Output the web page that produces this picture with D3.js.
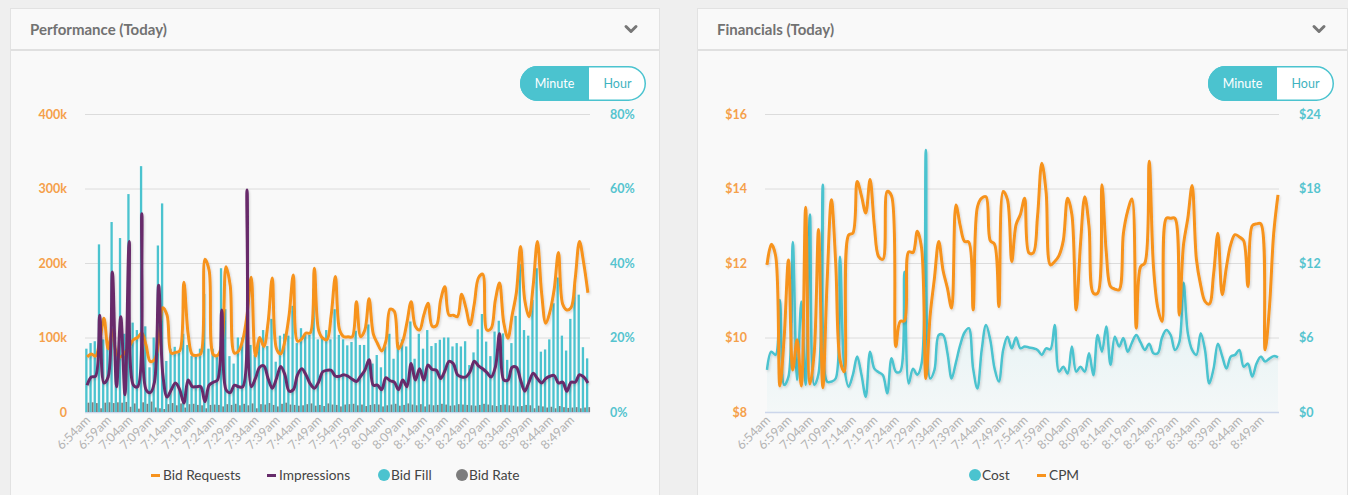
<!DOCTYPE html>
<html><head><meta charset="utf-8">
<script src="https://cdn.jsdelivr.net/npm/d3@7"></script>
<style>
html,body{margin:0;padding:0;background:#efefef;}
svg{display:block;font-family:Lato,"Open Sans",sans-serif;}
</style></head><body>
<svg id="c" width="1348" height="495"></svg>
<script>
// ---------- DATA ----------
const startMinute = 6 * 60 + 54; // 6:54am
const pointCount = 120;
const minuteLabels = d3.range(pointCount).map(k => {
  const m = startMinute + k, h = Math.floor(m / 60), mm = m % 60;
  return h + ":" + String(mm).padStart(2, "0") + "am";
});
const tickEvery = 5;

const perfLeftTicks = [0, 100, 200, 300, 400];      // thousands
const perfRightTicks = [0, 20, 40, 60, 80];         // percent
const finLeftTicks = [8, 10, 12, 14, 16];           // CPM $
const finRightTicks = [0, 6, 12, 18, 24];           // Cost $

const bidRequests = [74,78,75,95,126,85,110,78,74,80,
  88,97,100,106,90,68,70,95,140,130,
  79,80,82,174,105,77,76,78,205,190,
  77,76,90,195,170,79,82,97,130,181,
  75,100,88,120,180,85,78,95,130,184,
  95,98,106,106,193,110,99,97,130,182,
  110,101,101,101,148,101,110,152,105,92,
  82,95,138,135,85,95,120,148,115,110,
  130,146,115,116,150,168,130,130,128,158,
  140,117,145,180,185,110,112,150,173,120,
  99,130,160,222,150,128,170,229,160,119,
  135,165,214,145,137,140,180,229,200,160];

const impressions = [36,47,48,130,39,47,188,34,128,23,
  229,36,34,266,30,26,40,170,50,20,
  30,39,30,12,43,34,34,34,14,36,
  40,43,137,30,26,36,34,34,298,34,
  45,60,62,45,32,45,61,50,28,30,
  50,58,50,38,32,40,54,56,56,48,
  48,50,48,44,41,48,56,70,36,36,
  30,46,42,40,30,43,34,65,43,58,
  43,63,57,56,45,55,68,65,50,47,
  47,54,68,62,58,53,47,60,105,43,
  43,60,60,43,28,40,52,45,39,45,
  48,49,39,40,28,40,40,50,47,39];

const bidFill = [17,18.5,19,45,19.5,18,51,17,46.7,21,
  58.5,24,22,66,23,12,20,44.7,56,13.7,
  17,17.5,16,21,18,15,15,17,31.7,17,
  17,15,38.6,27.6,15,13,20,20,23.4,18,
  15.3,20,22,17.7,25,13.5,20.5,21,20.5,28.5,
  18.5,22.5,21,20.7,33.2,19.5,20,22,19.5,27.6,
  20.7,19.5,17.9,18.8,21.8,18,18,23.5,13,15.3,
  12,17.6,21,14.3,18.8,19.5,17.6,24.3,14.3,21,
  17,22,17.7,18.5,19.4,20,20,17.6,18.5,17.6,
  19,12.6,16,22.2,26.3,18.9,15,21.6,24.5,21.1,
  14,18.5,25.8,39.7,22,20.5,30.1,38.6,16.2,16.8,
  19.5,29.2,36.1,20.5,16.5,25,34.1,31.5,17.4,14.4];

const bidRate = [2.5,2.6,2.4,1.0,2.5,2.6,2.4,2.6,2.5,2.7,1.4,2.3,0.9,2.6,2.2,2.8,1.2,1.0,0.8,2.1,2.4,1.8,2.3,1.2,2.1,2.2,1.9,1.8,1.0,1.9,
  2.0,1.9,1.5,2.1,1.9,2.2,1.8,2.2,1.8,2.3,1.0,2.1,2.0,2.4,1.9,1.5,2.2,2.5,2.0,1.9,
  1.7,1.8,2.1,2.3,1.7,1.9,1.6,2.3,2.0,1.9,1.5,2.0,2.1,2.2,1.8,2.0,1.6,1.9,2.1,2.0,
  1.5,1.8,2.0,2.2,1.7,1.9,2.3,2.0,1.8,2.1,1.5,2.0,1.8,1.9,2.2,2.0,1.7,1.8,2.1,2.0,
  1.9,1.8,1.7,1.9,2.2,2.0,1.8,1.6,1.9,2.0,1.8,1.7,1.5,1.6,1.9,1.8,1.0,1.7,1.5,1.2,
  1.4,1.0,1.6,1.3,1.1,1.2,1.3,1.0,1.2,1.3];

const cost = [3.39,4.86,4.6,9.03,2.18,2.85,13.7,2.58,8.9,2.18,
  15.9,2.18,3.1,18.3,2.45,2.45,2.7,12.5,3.65,2.04,
  3.0,4.46,3.0,1.23,4.86,3.49,3.2,2.96,1.5,4.33,
  3.25,3.25,11.3,2.3,3.49,3.0,3.9,21.1,2.7,3.4,
  6.2,6.2,4.8,2.7,4.0,5.4,6.4,6.75,3.5,1.9,
  5.0,7.0,5.8,3.5,2.45,5.0,6.07,5.13,6.0,5.13,
  5.27,5.2,5.13,5.0,4.6,5.13,5.05,7.0,3.25,3.65,
  3.1,5.27,3.25,3.65,3.25,4.73,2.96,6.2,4.86,6.88,
  3.8,6.07,5.27,5.95,4.86,5.6,6.2,5.6,5.0,5.5,
  4.73,4.73,6.0,6.6,6.2,5.0,5.6,10.4,6.35,5.0,
  4.6,6.35,5.0,2.3,3.5,5.5,4.5,3.5,4.46,4.6,
  5.0,3.65,3.9,2.85,3.9,4.46,4.06,4.3,4.5,4.4];

const cpm = [11.95,12.5,12.2,8.7,10.0,12.08,9.13,9.94,8.7,13.5,
  8.75,9.6,12.9,8.65,11.5,13.7,12.0,9.4,9.08,12.75,
  12.8,14.19,13.8,13.34,14.24,13.0,12.17,12.1,13.92,13.8,
  9.76,10.43,10.45,12.3,12.28,12.85,12.4,8.9,10.6,11.6,
  12.58,11.8,11.33,10.79,13.56,13.0,12.58,12.56,10.74,13.5,
  13.74,13.78,12.6,12.5,10.83,13.92,13.7,12.04,13.03,13.3,
  13.74,12.27,12.27,13.25,14.68,13.9,11.95,12.04,12.2,12.6,
  13.74,13.3,10.74,12.5,13.78,12.97,11.19,11.19,14.1,12.3,
  11.37,11.3,11.28,12.8,13.4,13.72,10.25,11.9,12.0,14.73,
  11.9,10.8,10.43,13.2,13.2,13.2,10.6,12.5,13.2,14.08,
  12.1,11.4,10.97,10.9,11.7,12.8,11.15,11.9,12.5,12.76,
  12.7,12.6,11.37,13.0,13.05,13.05,9.67,10.8,12.8,13.83];

// ---------- STYLE ----------
const C = {orange:"#f7931e", purple:"#672c6b", teal:"#4bc3cf", grey:"#7d7d7d",
  axisOrange:"#f5a04a", axisTeal:"#55c4cf", grid:"#dcdcdc", base:"#ccd6eb", xlab:"#b3b3b3"};
const N = pointCount;
const svg = d3.select("#c");
const defs = svg.append("defs");
const f = defs.append("filter").attr("id","sh").attr("x","-5%").attr("y","-10%").attr("width","110%").attr("height","130%");
f.append("feDropShadow").attr("dx",1).attr("dy",1.5).attr("stdDeviation",1).attr("flood-color","#000").attr("flood-opacity",0.15);
const gr = defs.append("linearGradient").attr("id","costFill").attr("gradientUnits","userSpaceOnUse")
  .attr("x1",0).attr("x2",0).attr("y1",250).attr("y2",412);
gr.append("stop").attr("offset",0).attr("stop-color",C.teal).attr("stop-opacity",0.16);
gr.append("stop").attr("offset",1).attr("stop-color",C.teal).attr("stop-opacity",0.03);

function card(x, w, title, id) {
  const g = svg.append("g");
  g.append("rect").attr("x",x+0.5).attr("y",8.5).attr("width",w).attr("height",520)
    .attr("fill","#f9f9f9").attr("stroke","#e2e2e2");
  g.append("line").attr("x1",x+1).attr("x2",x+w).attr("y1",50).attr("y2",50)
    .attr("stroke","#e0e0e0").attr("stroke-width",2);
  g.append("text").attr("x",x+20).attr("y",35).text(title)
    .attr("font-size",15).attr("font-weight","bold").attr("fill","#727272");
  const cx = x + w - 28;
  g.append("path").attr("d",`M${cx-5},${26.5} L${cx},${31.5} L${cx+5},${26.5}`)
    .attr("fill","none").attr("stroke","#777").attr("stroke-width",3).attr("stroke-linecap","round").attr("stroke-linejoin","round");
  // toggle
  const tx = x + w - 139, ty = 66, tw = 126, th = 35, split = 69;
  defs.append("clipPath").attr("id","clip"+id).append("rect")
    .attr("x",tx).attr("y",ty).attr("width",tw).attr("height",th).attr("rx",th/2);
  g.append("rect").attr("x",tx).attr("y",ty).attr("width",tw).attr("height",th).attr("rx",th/2).attr("fill","#fff");
  g.append("rect").attr("x",tx).attr("y",ty).attr("width",split).attr("height",th).attr("fill",C.teal).attr("clip-path",`url(#clip${id})`);
  g.append("rect").attr("x",tx+0.75).attr("y",ty+0.75).attr("width",tw-1.5).attr("height",th-1.5).attr("rx",(th-1.5)/2)
    .attr("fill","none").attr("stroke",C.teal).attr("stroke-width",1.5);
  g.append("text").attr("x",tx+split/2).attr("y",ty+th/2+4.5).attr("text-anchor","middle").attr("font-size",12.5).attr("fill","#fff").text("Minute");
  g.append("text").attr("x",tx+split+(tw-split)/2).attr("y",ty+th/2+4.5).attr("text-anchor","middle").attr("font-size",12.5).attr("fill","#3fb3c0").text("Hour");
}
card(10, 649, "Performance (Today)", "L");
card(697, 650, "Financials (Today)", "R");

function frame(x0, x1, yScale, leftTicks, leftFmt, rightScale, rightTicks, rightFmt, xPos, tickIdx) {
  const g = svg.append("g");
  g.append("g").attr("transform",`translate(${x0},0)`)
    .call(d3.axisLeft(yScale).tickValues(leftTicks.slice(1)).tickSize(-(x1-x0)).tickFormat(""))
    .call(s => { s.select(".domain").remove(); s.selectAll("line").attr("stroke",C.grid); });
  g.append("line").attr("x1",x0).attr("x2",x1).attr("y1",yScale(leftTicks[0])+0.5).attr("y2",yScale(leftTicks[0])+0.5).attr("stroke",C.base).attr("stroke-width",1.5);
  g.append("g").attr("transform",`translate(${x0},0)`)
    .call(d3.axisLeft(yScale).tickValues(leftTicks).tickSize(0).tickPadding(18).tickFormat(leftFmt))
    .call(s => { s.select(".domain").remove(); s.selectAll("text").attr("fill",C.axisOrange).attr("font-size",12.5).attr("font-family","Lato,sans-serif").attr("font-weight","bold"); });
  g.append("g").attr("transform",`translate(${x1},0)`)
    .call(d3.axisRight(rightScale).tickValues(rightTicks).tickSize(0).tickPadding(20).tickFormat(rightFmt))
    .call(s => { s.select(".domain").remove(); s.selectAll("text").attr("fill",C.axisTeal).attr("font-size",12.5).attr("font-family","Lato,sans-serif").attr("font-weight","bold"); });
  const xg = g.append("g");
  tickIdx.forEach(i => {
    xg.append("text").attr("transform",`translate(${xPos(i)+4},${421}) rotate(-45)`)
      .attr("text-anchor","end").attr("font-size",12.5).attr("fill",C.xlab).text(minuteLabels[i]);
  });
}

// ---------- PERFORMANCE ----------
const xL = d3.scaleBand().domain(d3.range(N)).range([85,590]);
const cxL = i => xL(i) + xL.bandwidth()/2;
const yL = d3.scaleLinear().domain([0,400]).range([412,114]);
const yP = d3.scaleLinear().domain([0,80]).range([412,114]);
const ticksIdx = d3.range(0, N, tickEvery);
frame(85, 590, yL, perfLeftTicks, d => d === 0 ? "0" : d + "k", yP, perfRightTicks, d => d + "%", cxL, ticksIdx);

const bw = xL.bandwidth();
const pg = svg.append("g");
pg.selectAll(".fill").data(bidFill).join("rect")
  .attr("x",(d,i)=>xL(i)+0.2).attr("width",bw*0.55).attr("y",d=>yP(d)).attr("height",d=>412-yP(d)).attr("fill",C.teal);
pg.selectAll(".rate").data(bidRate).join("rect")
  .attr("x",(d,i)=>xL(i)+0.2+bw*0.57).attr("width",bw*0.4).attr("y",d=>yP(d)).attr("height",d=>412-yP(d)).attr("fill",C.grey);
const lineL = d3.line().x((d,i)=>cxL(i)).y(d=>yL(d)).curve(d3.curveCatmullRom.alpha(0.5));
pg.append("path").attr("d",lineL(bidRequests)).attr("fill","none").attr("stroke",C.orange).attr("stroke-width",3).attr("filter","url(#sh)");
pg.append("path").attr("d",lineL(impressions)).attr("fill","none").attr("stroke",C.purple).attr("stroke-width",3).attr("filter","url(#sh)");

// legend
const lg = svg.append("g").attr("font-size",13.7).attr("fill","#444");
function legLine(x, col, label){ lg.append("rect").attr("x",x).attr("y",474).attr("width",9).attr("height",3).attr("fill",col); lg.append("text").attr("x",x+12).attr("y",480).text(label).attr("fill","#444"); }
function legDot(x, col, label){ lg.append("circle").attr("cx",x).attr("cy",475).attr("r",6).attr("fill",col); lg.append("text").attr("x",x+7).attr("y",480).text(label).attr("fill","#444"); }
legLine(151, C.orange, "Bid Requests");
legLine(267, C.purple, "Impressions");
legDot(384, C.teal, "Bid Fill");
legDot(462, C.grey, "Bid Rate");

// ---------- FINANCIALS ----------
const xR = d3.scalePoint().domain(d3.range(N)).range([767,1278]);
const yCPM = d3.scaleLinear().domain([8,16]).range([412,114]);
const yCost = d3.scaleLinear().domain([0,24]).range([412,114]);
frame(765, 1279, yCPM, finLeftTicks, d => "$" + d, yCost, finRightTicks, d => "$" + d, i => xR(i), ticksIdx);
const fg = svg.append("g");
const curve = d3.curveCatmullRom.alpha(0.5);
fg.append("path").attr("d", d3.area().x((d,i)=>xR(i)).y0(412).y1(d=>yCost(d)).curve(curve)(cost)).attr("fill","url(#costFill)");
fg.append("path").attr("d", d3.line().x((d,i)=>xR(i)).y(d=>yCost(d)).curve(curve)(cost)).attr("fill","none").attr("stroke",C.teal).attr("stroke-width",2.5).attr("filter","url(#sh)");
fg.append("path").attr("d", d3.line().x((d,i)=>xR(i)).y(d=>yCPM(d)).curve(curve)(cpm)).attr("fill","none").attr("stroke",C.orange).attr("stroke-width",3).attr("filter","url(#sh)");

legDot(975, C.teal, "Cost");
legLine(1037, C.orange, "CPM");
</script>
</body></html>
